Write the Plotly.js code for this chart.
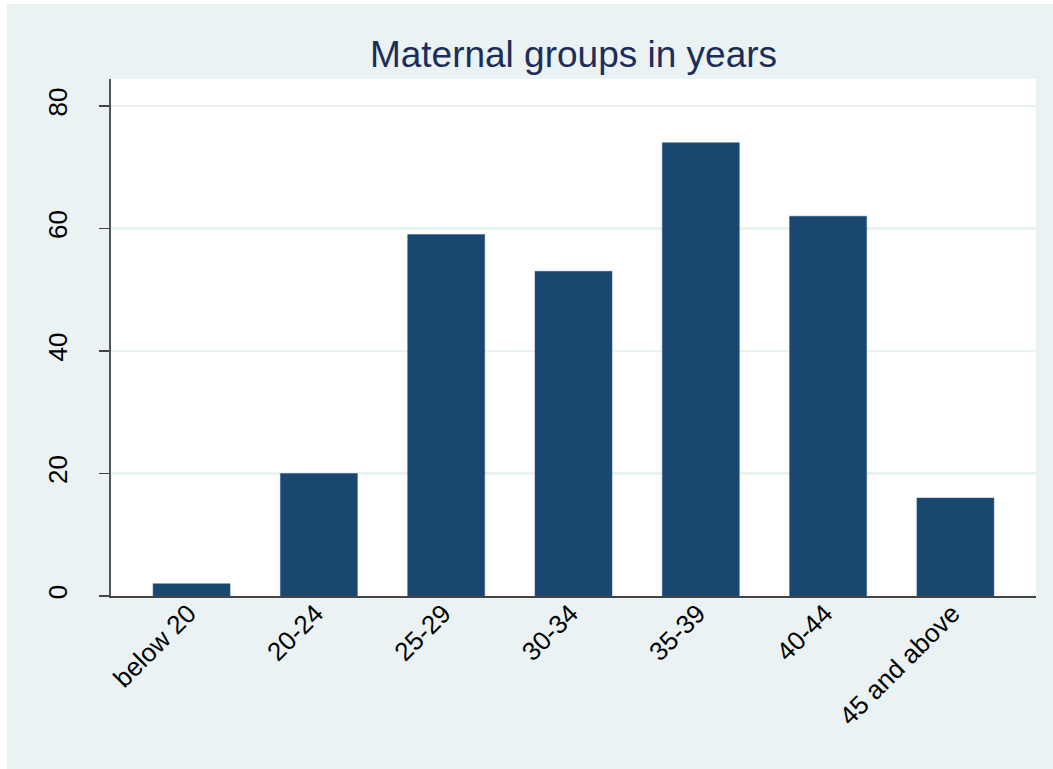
<!DOCTYPE html>
<html>
<head>
<meta charset="utf-8">
<script src="https://cdn.plot.ly/plotly-3.0.1.min.js"></script>
<style>
html, body { margin: 0; padding: 0; background: #ffffff; }
#chart { position: absolute; left: 7px; top: 4px; width: 1046px; height: 765px; }
</style>
</head>
<body>
<div id="chart"></div>
<script>
const categories = ["below 20", "20-24", "25-29", "30-34", "35-39", "40-44", "45 and above"];
const counts = [2, 20, 59, 53, 74, 62, 16];
const yTicks = [0, 20, 40, 60, 80];
const chartTitle = "Maternal groups in years";

const trace = {
  type: "bar",
  x: categories,
  y: counts,
  width: 0.605,
  marker: { color: "#1A476F", line: { color: "#2C5780", width: 0.5 } },
  hoverinfo: "x+y"
};

const layout = {
  width: 1046,
  height: 765,
  paper_bgcolor: "#EAF2F3",
  plot_bgcolor: "#FFFFFF",
  margin: { l: 104, r: 17, t: 75, b: 173 },
  showlegend: false,
  title: {
    text: chartTitle,
    font: { family: "Arial, Liberation Sans, sans-serif", size: 37, color: "#1C2D5A" },
    x: 0.5, xref: "paper", xanchor: "center",
    y: 1, yref: "paper", yanchor: "bottom",
    pad: { b: 12 }
  },
  xaxis: {
    type: "category",
    range: [-0.633, 6.633],
    tickangle: -45,
    tickfont: { family: "Arial, Liberation Sans, sans-serif", size: 26, color: "#000000" },
    showline: true, linecolor: "#444444", linewidth: 2,
    ticks: "", showgrid: false, zeroline: false,
    ticklabelstandoff: -10,
    ticklabelshift: -3
  },
  yaxis: {
    range: [0, 84.4],
    tickvals: yTicks,
    ticktext: yTicks.map(String),
    tickangle: -90,
    tickfont: { family: "Arial, Liberation Sans, sans-serif", size: 26, color: "#000000" },
    ticks: "outside", ticklen: 10, tickwidth: 1.5, tickcolor: "#444444",
    showline: true, linecolor: "#555555", linewidth: 2,
    showgrid: true, gridcolor: "#EAF2F3", gridwidth: 2.5,
    zeroline: false,
    ticklabelstandoff: 22
  },
  bargap: 0.4
};

Plotly.newPlot("chart", [trace], layout, { displayModeBar: false, staticPlot: true });
</script>
</body>
</html>
